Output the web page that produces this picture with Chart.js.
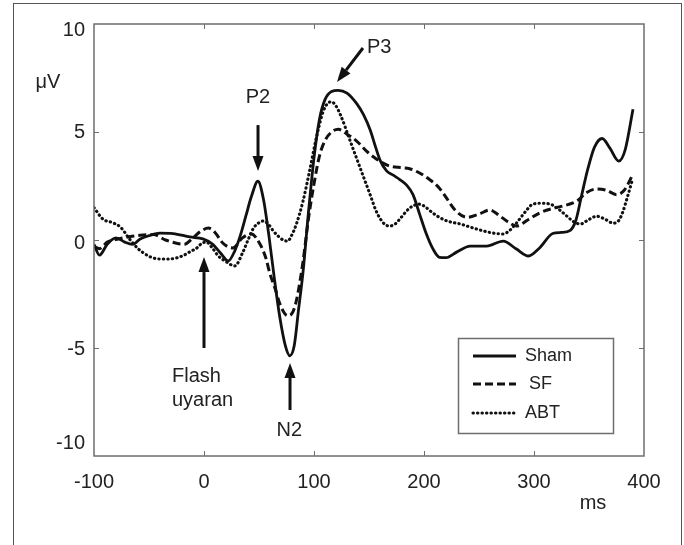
<!DOCTYPE html>
<html>
<head>
<meta charset="utf-8">
<script src="https://cdn.jsdelivr.net/npm/chart.js@4/dist/chart.umd.min.js"></script>
<style>
  html, body { margin: 0; padding: 0; background: #fff; }
  canvas { display: block; }
</style>
</head>
<body>
<canvas id="c" width="684" height="545"></canvas>
<script>
// ---- data (ms, µV) ----
const xTicks = [-100, 0, 100, 200, 300, 400];
const yTicks = [-10, -5, 0, 5, 10];
const seriesNames = ['Sham', 'SF', 'ABT'];

const shamMs = [-100,-95,-88,-80,-72,-65,-58,-50,-40,-28,-13,-1,8,15,22,28,33,38,43,49,54,59,64,69,74,78,82,86,90,95,100,105,110,116,122,130,139,145,151,156,160,166,172,178,184,190,196,202,208,214,220,230,242,257,272,284,295,305,317,325,333,338,343,349,355,362,369,377,383,390];
const shamUv = [-0.2,-0.7,-0.2,0.1,-0.1,-0.2,0.05,0.2,0.32,0.3,0.14,0.05,-0.2,-0.6,-0.97,-0.5,0.2,1.1,2.0,2.72,1.9,0.2,-1.8,-3.6,-4.9,-5.36,-4.9,-3.2,-1.5,1.3,3.8,5.6,6.5,6.88,6.93,6.8,6.3,5.8,5.1,4.3,3.7,3.2,3.0,2.8,2.55,2.1,1.2,0.3,-0.4,-0.8,-0.82,-0.55,-0.28,-0.28,-0.05,-0.42,-0.74,-0.37,0.3,0.35,0.45,0.9,2.0,3.3,4.3,4.7,4.25,3.65,4.2,6.05];

const sfMs = [-100,-95,-88,-78,-68,-58,-46,-35,-25,-18,-10,-3,4,10,17,26,35,43,51,56,60,65,69,76,80,84,90,95,100,105,110,116,122,130,139,148,157,169,180,187,196,205,214,221,228,239,250,260,268,276,284,295,305,316,326,339,348,357,366,375,382,390];
const sfUv = [-0.3,-0.4,-0.1,0.05,0.15,0.22,0.25,0.0,-0.15,-0.2,0.1,0.4,0.55,0.35,-0.14,-0.37,0.1,0.28,-0.2,-0.8,-1.57,-2.3,-2.96,-3.5,-3.4,-2.8,-1.0,1.0,2.6,3.9,4.6,5.0,5.13,4.9,4.57,4.1,3.74,3.42,3.35,3.3,3.1,2.8,2.4,1.9,1.4,1.05,1.2,1.39,1.15,0.85,0.65,0.95,1.25,1.45,1.57,1.8,2.2,2.36,2.3,2.1,2.3,3.05];

const abtMs = [-100,-92,-83,-76,-67,-60,-55,-48,-40,-32,-25,-18,-13,-6,-2,2,8,13,20,28,35,40,45,50,54,59,63,68,72,76,80,84,90,96,102,108,112,116,120,124,133,142,151,156,160,165,169,174,178,187,196,202,208,214,221,233,245,254,263,272,278,284,292,299,307,315,323,330,336,342,350,357,365,372,377,381,385,389];
const abtUv = [1.5,0.97,0.8,0.6,0.0,-0.4,-0.6,-0.8,-0.88,-0.88,-0.83,-0.7,-0.55,-0.35,-0.15,-0.1,-0.4,-0.74,-1.0,-1.2,-0.6,0.0,0.55,0.8,0.88,0.7,0.42,0.15,0.0,-0.05,0.25,0.74,1.8,3.2,4.7,5.9,6.3,6.4,6.2,5.8,4.57,3.33,2.1,1.4,1.0,0.7,0.65,0.75,0.97,1.48,1.66,1.5,1.25,1.05,0.88,0.74,0.55,0.42,0.32,0.28,0.45,0.78,1.3,1.66,1.7,1.66,1.4,1.1,0.85,0.74,0.95,1.1,0.95,0.78,0.9,1.34,2.0,2.7];

// ---- annotations (positions in axis units) ----
const arrows = [
  { from: [49.1, 5.32], to: [49.1, 3.19] },      // P2
  { from: [144.5, 8.89], to: [120.9, 7.31] },    // P3
  { from: [0, -5.0], to: [0, -0.79] },           // Flash
  { from: [78.2, -7.87], to: [78.2, -5.69] }     // N2
];
const labels = [
  { text: 'P2', at: [49.1, 6.62], align: 'center' },
  { text: 'P3', at: [148.2, 8.89], align: 'left' },
  { text: 'Flash', at: [-29.1, -6.34], align: 'left' },
  { text: 'uyaran', at: [-29.1, -7.41], align: 'left' },
  { text: 'N2', at: [77.5, -8.8], align: 'center' }
];
// small vertical offsets (px) of the y tick labels, as placed in the original figure
const yLabelShift = { '10': 6, '5': 0, '0': 3, '-5': 1, '-10': -13 };

const FONT = '"Liberation Sans", Arial, Helvetica, sans-serif';
const INK = '#111';
const TXT = '#222';

function pts(xs, ys) { return xs.map((x, i) => ({ x: x, y: ys[i] })); }

const styles = [
  { borderWidth: 2.8, borderDash: [], borderCapStyle: 'butt' },
  { borderWidth: 3, borderDash: [8, 4], borderCapStyle: 'butt' },
  { borderWidth: 3.1, borderDash: [0.4, 4.1], borderCapStyle: 'round' }
];
const allMs = [shamMs, sfMs, abtMs];
const allUv = [shamUv, sfUv, abtUv];

const datasets = seriesNames.map((name, i) => Object.assign({
  label: name,
  data: pts(allMs[i], allUv[i]),
  borderColor: INK,
  pointRadius: 0,
  fill: false,
  cubicInterpolationMode: 'monotone',
  borderJoinStyle: 'round'
}, styles[i]));

function drawArrow(ctx, x1, y1, x2, y2) {
  const ang = Math.atan2(y2 - y1, x2 - x1);
  const headLen = 15, headHalf = 5.5;
  const bx = x2 - headLen * Math.cos(ang), by = y2 - headLen * Math.sin(ang);
  ctx.save();
  ctx.strokeStyle = INK; ctx.fillStyle = INK;
  ctx.lineWidth = 3;
  ctx.beginPath(); ctx.moveTo(x1, y1); ctx.lineTo(bx, by); ctx.stroke();
  ctx.beginPath();
  ctx.moveTo(x2, y2);
  ctx.lineTo(bx + headHalf * Math.sin(ang), by - headHalf * Math.cos(ang));
  ctx.lineTo(bx - headHalf * Math.sin(ang), by + headHalf * Math.cos(ang));
  ctx.closePath(); ctx.fill();
  ctx.restore();
}

const decor = {
  id: 'decor',
  beforeDraw(chart) {
    const ctx = chart.ctx;
    ctx.save();
    ctx.fillStyle = '#fff';
    ctx.fillRect(0, 0, chart.width, chart.height);
    ctx.strokeStyle = '#555';
    ctx.lineWidth = 1;
    ctx.strokeRect(13.5, 3.5, 668, 600);
    ctx.restore();
  },
  afterDraw(chart) {
    const ctx = chart.ctx, a = chart.chartArea;
    const xs = chart.scales.x, ys = chart.scales.y;
    ctx.save();
    // plot frame
    ctx.strokeStyle = '#6e6e6e';
    ctx.lineWidth = 1.5;
    ctx.strokeRect(a.left, a.top, a.right - a.left, a.bottom - a.top);
    // inward ticks
    ctx.lineWidth = 1;
    ctx.beginPath();
    xTicks.forEach(v => {
      const p = Math.round(xs.getPixelForValue(v)) + 0.5;
      if (p > a.left + 2 && p < a.right - 2) {
        ctx.moveTo(p, a.bottom); ctx.lineTo(p, a.bottom - 5);
        ctx.moveTo(p, a.top); ctx.lineTo(p, a.top + 5);
      }
    });
    yTicks.forEach(v => {
      const p = Math.round(ys.getPixelForValue(v)) + 0.5;
      if (p > a.top + 2 && p < a.bottom - 2) {
        ctx.moveTo(a.left, p); ctx.lineTo(a.left + 5, p);
        ctx.moveTo(a.right, p); ctx.lineTo(a.right - 5, p);
      }
    });
    ctx.stroke();

    // y tick labels
    ctx.fillStyle = TXT;
    ctx.font = '20px ' + FONT;
    ctx.textAlign = 'right';
    ctx.textBaseline = 'middle';
    yTicks.forEach(v => {
      ctx.fillText(String(v), a.left - 9, ys.getPixelForValue(v) + (yLabelShift[String(v)] || 0));
    });

    // arrows
    arrows.forEach(ar => drawArrow(ctx,
      xs.getPixelForValue(ar.from[0]), ys.getPixelForValue(ar.from[1]),
      xs.getPixelForValue(ar.to[0]), ys.getPixelForValue(ar.to[1])));

    // annotation text
    ctx.fillStyle = TXT;
    ctx.font = '20px ' + FONT;
    ctx.textBaseline = 'middle';
    labels.forEach(l => {
      ctx.textAlign = l.align;
      ctx.fillText(l.text, xs.getPixelForValue(l.at[0]), ys.getPixelForValue(l.at[1]));
    });

    // axis titles
    ctx.textAlign = 'center';
    ctx.fillText('\u03BCV', 48, 82);
    ctx.fillText('ms', 593, 503);

    // legend
    const lx = 458, ly = 338, lw = 155, lh = 95;
    ctx.fillStyle = '#fff';
    ctx.fillRect(lx, ly, lw, lh);
    ctx.strokeStyle = '#6e6e6e';
    ctx.lineWidth = 1.5;
    ctx.strokeRect(lx + 0.5, ly + 0.5, lw, lh);
    const rowY = [356, 384, 413];
    const textX = [525, 529, 525];
    chart.data.datasets.forEach((ds, i) => {
      ctx.save();
      ctx.strokeStyle = ds.borderColor;
      ctx.lineWidth = ds.borderWidth;
      ctx.setLineDash(ds.borderDash || []);
      ctx.lineCap = ds.borderCapStyle;
      ctx.beginPath();
      ctx.moveTo(473, rowY[i]); ctx.lineTo(516, rowY[i]);
      ctx.stroke();
      ctx.restore();
      ctx.fillStyle = TXT;
      ctx.font = '18px ' + FONT;
      ctx.textAlign = 'left';
      ctx.textBaseline = 'middle';
      ctx.fillText(ds.label, textX[i], rowY[i]);
    });
    ctx.restore();
  }
};

new Chart(document.getElementById('c').getContext('2d'), {
  type: 'line',
  data: { datasets: datasets },
  options: {
    responsive: false,
    animation: false,
    events: [],
    layout: { padding: { left: 0, top: 24, right: 40, bottom: 0 } },
    plugins: { legend: { display: false }, tooltip: { enabled: false } },
    scales: {
      x: {
        type: 'linear', min: -100, max: 400,
        afterBuildTicks(s) { s.ticks = xTicks.map(v => ({ value: v })); },
        ticks: { font: { family: FONT, size: 20 }, color: TXT, padding: 14, maxRotation: 0 },
        grid: { display: false, drawTicks: false },
        border: { display: false },
        afterFit(s) { s.height = 89; }
      },
      y: {
        type: 'linear', min: -10, max: 10,
        afterBuildTicks(s) { s.ticks = yTicks.map(v => ({ value: v })); },
        ticks: { display: false },
        grid: { display: false, drawTicks: false },
        border: { display: false },
        afterFit(s) { s.width = 94; }
      }
    }
  },
  plugins: [decor]
});
</script>
</body>
</html>
